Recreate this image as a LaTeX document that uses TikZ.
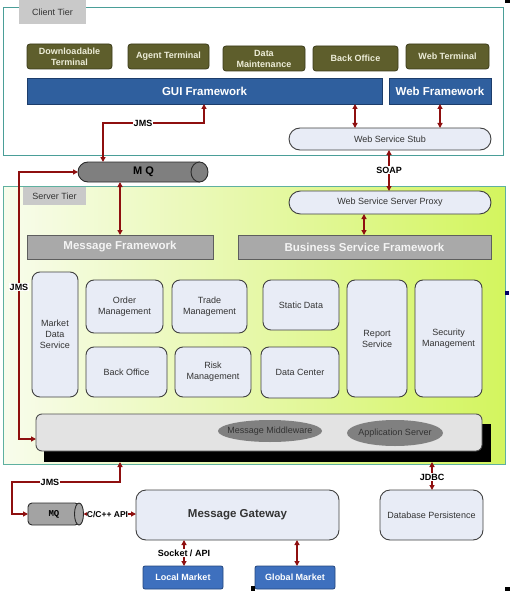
\documentclass[tikz,border=0pt]{standalone}
\usepackage{fontspec}
\setmainfont{Liberation Sans}
\newfontfamily\monofont{Liberation Mono}
\usetikzlibrary{arrows.meta,shapes.misc,shapes.geometric}
\definecolor{tealc}{HTML}{4A9E98}
\definecolor{srvb}{HTML}{5FB0A0}
\definecolor{olivef}{HTML}{5E5E2C}
\definecolor{oliveb}{HTML}{3B3B1A}
\definecolor{olivet}{HTML}{EDEDD8}
\definecolor{bluef}{HTML}{2F5F9E}
\definecolor{blueb}{HTML}{1C3D6B}
\definecolor{mktf}{HTML}{3E70BE}
\definecolor{mktb}{HTML}{24467E}
\definecolor{grayf}{HTML}{A9A9A9}
\definecolor{grayb}{HTML}{5E5E5E}
\definecolor{grayt}{HTML}{F4F4F4}
\definecolor{tierf}{HTML}{C9C9C9}
\definecolor{svcf}{HTML}{E8ECF6}
\definecolor{svcb}{HTML}{404040}
\definecolor{textd}{HTML}{333333}
\definecolor{barf}{HTML}{E3E3E3}
\definecolor{barb}{HTML}{505050}
\definecolor{ovalf}{HTML}{808080}
\definecolor{arrc}{HTML}{8E0F0F}
\definecolor{mqf}{HTML}{7F7F7F}
\definecolor{mqb}{HTML}{2B2B2B}
\definecolor{mqtwo}{HTML}{A3A3A3}
\definecolor{srvL}{HTML}{F8FCEC}
\definecolor{srvM}{HTML}{E6F8A8}
\definecolor{srvR}{HTML}{D3F55E}
\newcommand{\bx}[7]{\node[#1, minimum width={(#5-#3)*1pt}, minimum height={(#6-#4)*1pt}] (#2) at ({(#3+#5)/2},{(#4+#6)/2}) {#7};}
\begin{document}
\begin{tikzpicture}[x=1pt,y=-1pt,
  base/.style={inner sep=0pt, outer sep=0pt, align=center, font=\fontsize{9}{11}\selectfont},
  frame/.style={base, draw=tealc, line width=1pt, fill=white},
  srvframe/.style={base, draw=srvb, line width=1pt, left color=srvL, right color=srvR, middle color=srvM},
  tierlabel/.style={base, fill=tierf, text=textd},
  olivebox/.style={base, rounded corners=3pt, fill=olivef, draw=oliveb, line width=0.8pt, text=olivet, font=\fontsize{9}{11}\selectfont\bfseries},
  bluebar/.style={base, fill=bluef, draw=blueb, line width=0.8pt, text=white, font=\fontsize{11.5}{13}\selectfont\bfseries},
  graybar/.style={base, fill=grayf, draw=grayb, line width=0.8pt, text=grayt, font=\fontsize{11.5}{13}\selectfont\bfseries},
  svc/.style={base, rounded corners=8pt, fill=svcf, draw=svcb, line width=0.9pt, text=textd},
  pill/.style={base, rounded rectangle, fill=svcf, draw=svcb, line width=0.9pt, text=textd},
  oval/.style={base, ellipse, fill=ovalf},
  mkt/.style={base, rounded corners=2pt, fill=mktf, draw=mktb, line width=0.8pt, text=white, font=\fontsize{9}{11}\selectfont\bfseries},
  mqs/.style={fill=mqf, draw=mqb, line width=0.9pt},
  arr/.style={draw=arrc, line width=1.2pt, {Triangle[length=5pt,width=5pt]}-{Triangle[length=5pt,width=5pt]}},
  lbl/.style={base, fill=white, inner sep=1pt, font=\fontsize{9}{11}\selectfont\bfseries, text=black}
]
\useasboundingbox (0,0) rectangle (510,591);
% ---------- client tier ----------
\bx{frame}{client}{3}{8}{503}{155}{}
\bx{tierlabel}{clientlbl}{19}{0}{86}{24}{Client Tier}
\bx{olivebox}{dl}{27}{44}{112}{69}{Downloadable\\Terminal}
\bx{olivebox}{agt}{128}{44}{209}{69}{Agent Terminal}
\bx{olivebox}{dm}{223}{46}{305}{71}{Data\\Maintenance}
\bx{olivebox}{cbo}{313}{46}{398}{71}{Back Office}
\bx{olivebox}{wt}{406}{44}{489}{69}{Web Terminal}
\bx{bluebar}{gui}{27}{78}{382}{104}{GUI Framework}
\bx{bluebar}{webfw}{389}{78}{491}{104}{Web Framework}
\bx{pill}{stub}{289}{128}{491}{150}{Web Service Stub}
% ---------- server tier ----------
\bx{srvframe}{server}{3}{186}{505}{464}{}
\bx{tierlabel}{serverlbl}{23}{187}{86}{205}{Server Tier}
\bx{pill}{proxy}{289}{191}{491}{214}{Web Service Server Proxy}
\bx{graybar}{msgfw}{27}{235}{213}{259}{Message Framework}
\bx{graybar}{bsf}{238}{235}{491}{259}{Business Service Framework}
\bx{svc}{mds}{32}{272}{78}{397}{Market\\Data\\Service}
\bx{svc}{om}{86}{280}{163}{333}{Order\\Management}
\bx{svc}{tm}{172}{280}{247}{333}{Trade\\Management}
\bx{svc}{sbo}{86}{347}{167}{397}{Back Office}
\bx{svc}{rm}{175}{347}{251}{397}{Risk\\Management}
\bx{svc}{sd}{263}{280}{339}{330}{Static Data}
\bx{svc}{dc}{261}{347}{339}{398}{Data Center}
\bx{svc}{rs}{347}{280}{407}{397}{Report\\Service}
\bx{svc}{sm}{415}{280}{482}{397}{Security\\Management}
\bx{base, fill=black}{shadow}{44}{424}{491}{462}{}
\bx{base, rounded corners=6pt, fill=barf, draw=barb, line width=0.9pt}{bar}{36}{414}{482}{451}{}
\bx{oval}{mm}{218}{420}{322}{442}{}
\node[base, text=textd] (mmt) at (mm) {Message Middleware};
\bx{oval}{as}{347}{420}{443}{446}{}
\node[base, text=textd] (ast) at (as) {Application Server};
% ---------- MQ (upper) ----------
\bx{base, rounded rectangle, rounded rectangle east arc=none, mqs}{mq}{78}{162}{199.5}{182}{}
\draw[mqs] (mq.east) ellipse [x radius=8.5pt, y radius=10pt];
\node[base, font=\fontsize{11}{13}\selectfont\bfseries, text=black] (mqt) at (143.5,172) {M Q};
% ---------- bottom ----------
\bx{base}{mq2}{28}{503}{83.5}{525}{}
\draw[mqs, fill=mqtwo, rounded corners=4pt] (79,503) -- (28,503) -- (28,525) -- (79,525) -- cycle;
\draw[mqs, fill=mqtwo] (79,514) ellipse [x radius=4.5pt, y radius=11pt];
\node[base, font=\fontsize{9}{11}\monofont\bfseries, text=black] (mq2t) at (54,514) {MQ};
\bx{svc, rounded corners=10pt}{gw}{136}{490}{339}{540}{\fontsize{11.5}{13}\selectfont\bfseries Message Gateway}
\bx{svc, rounded corners=10pt}{db}{380}{490}{483}{540}{Database Persistence}
\bx{mkt}{lm}{143}{566}{223}{589}{Local Market}
\bx{mkt}{gm}{255}{566}{335}{589}{Global Market}
% ---------- connectors ----------
\coordinate (j1) at (204,123);
\coordinate (j2) at (103,123);
\draw[arr] (gui.south -| j1) -- (j1) -- (j2) -- (mq.north -| j2);
\node[lbl] (jms1) at (143,123) {JMS};
\coordinate (s1) at (355,0);
\coordinate (s2) at (440,0);
\coordinate (s3) at (389,0);
\coordinate (s4) at (364,0);
\draw[arr] (gui.south -| s1) -- (stub.north -| s1);
\draw[arr] (webfw.south -| s2) -- (stub.north -| s2);
\draw[arr] (stub.south -| s3) -- (proxy.north -| s3);
\node[lbl] (soap) at (389,170) {SOAP};
\draw[arr] (proxy.south -| s4) -- (bsf.north -| s4);
\coordinate (m1) at (120,0);
\draw[arr] (mq.south -| m1) -- (msgfw.north -| m1);
\coordinate (k1) at (19,172);
\coordinate (k2) at (19,439);
\draw[arr] (mq.west) -- (k1) -- (k2) -- (bar.west |- k2);
\node[lbl] (jms2) at (19,287) {JMS};
\coordinate (b1) at (120,482);
\coordinate (b2) at (12,482);
\coordinate (b3) at (12,514);
\draw[arr] (shadow.south -| b1) -- (b1) -- (b2) -- (b3) -- (mq2.west |- b3);
\node[lbl] (jms3) at (50,482) {JMS};
\draw[arr] (mq2.east) -- (gw.west |- mq2.east);
\node[lbl, inner sep=0pt, font=\fontsize{8.5}{10}\selectfont\bfseries] (capi) at (107.5,514) {C/C++ API};
\coordinate (t1) at (184,0);
\coordinate (t2) at (297,0);
\coordinate (t3) at (432,0);
\draw[arr] (gw.south -| t1) -- (lm.north -| t1);
\node[lbl] (sock) at (184,553) {Socket / API};
\draw[arr] (gw.south -| t2) -- (gm.north -| t2);
\draw[arr] (shadow.south -| t3) -- (db.north -| t3);
\node[lbl] (jdbc) at (432,477) {JDBC};
% ---------- stray handles ----------
\fill[black] (505,0) rectangle (510,3);
\fill[blue!40!black] (505,291) rectangle (509,295);
\fill[black] (505,587) rectangle (510,591);
\fill[black] (251,586) rectangle (255,591);
\end{tikzpicture}
\end{document}
